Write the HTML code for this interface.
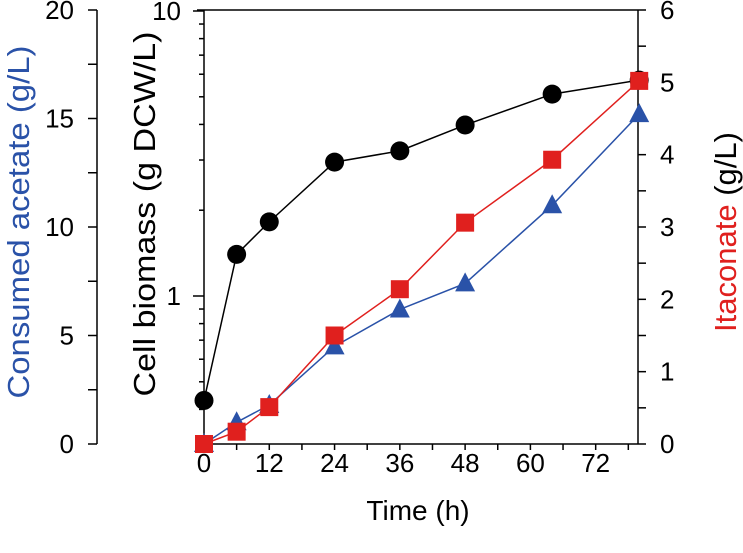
<!DOCTYPE html>
<html><head><meta charset="utf-8"><style>
body{margin:0;background:#fff}
svg{font-family:"Liberation Sans",Arial,sans-serif}
</style></head><body>
<svg width="743" height="548" viewBox="0 0 743 548">
<g id="axes"></g><g id="series"></g>
</svg>
<script>
const times=[0,6,12,24,36,48,64,80];
const biomass=[0.43,1.40,1.82,2.95,3.23,3.98,5.11,5.72];
const acetate=[0,1.0,1.8,4.5,6.2,7.4,11.0,15.2];
const itaconate=[0,0.17,0.51,1.5,2.14,3.06,3.93,5.02];
const xTicks=[0,12,24,36,48,60,72];
const accTicks=[0,5,10,15,20];
const itaTicks=[0,1,2,3,4,5,6];
const NS="http://www.w3.org/2000/svg";
const Y0=444,Y1=10;
const X=t=>204+t*5.44;
const YA=v=>Y0-(Y0-Y1)*v/20;
const YI=v=>Y0-(Y0-Y1)*v/6;
const YB=v=>296-285*Math.log10(v);
const ax=document.getElementById('axes'),se=document.getElementById('series');
function mk(p,tag,at,txt){const e=document.createElementNS(NS,tag);for(const k in at)e.setAttribute(k,at[k]);if(txt!==undefined)e.textContent=txt;p.appendChild(e);return e;}
function line(x1,y1,x2,y2,nm){const e=mk(ax,'line',{x1,y1,x2,y2,stroke:'#000','stroke-width':1.5});}
// x axis + top frame
line(197,Y0,638,Y0,'x-axis');
line(197,Y1,638,Y1,'top-frame');
for(let t=0;t<=78;t+=6){line(X(t),Y0,X(t),Y0+6,'x-tick');}
xTicks.forEach(t=>{const e=mk(ax,'text',{x:X(t),y:472,'font-size':26,'text-anchor':'middle'},t);});
let e=mk(ax,'text',{x:418,y:520,'font-size':28,'text-anchor':'middle'},'Time (h)');
// left acetate axis
line(97,Y1,97,Y0,'acetate-axis');
for(let v=0;v<=20;v+=2.5){line(88,YA(v),97,YA(v),'acetate-tick');}
accTicks.forEach(v=>{const e=mk(ax,'text',{x:74,y:YA(v)+9,'font-size':26,'text-anchor':'end'},v);});
e=mk(ax,'text',{x:0,y:0,'font-size':31,'text-anchor':'middle',textLength:353,lengthAdjust:'spacingAndGlyphs',fill:'#2a52a8',transform:'translate(29,222) rotate(-90)'},'Consumed acetate (g/L)');
// biomass log axis
line(204,Y1,204,Y0,'biomass-axis');
[0.3,0.4,0.5,0.6,0.7,0.8,0.9,1,2,3,4,5,6,7,8,9,10].forEach(v=>{const major=(v===1||v===10);line(major?193:199,YB(v),204,YB(v),'biomass-tick');});
[[1,'1'],[10,'10']].forEach(([v,s])=>{const e=mk(ax,'text',{x:181,y:YB(v)+9,'font-size':26,'text-anchor':'end'},s);});
e=mk(ax,'text',{x:0,y:0,'font-size':31,'text-anchor':'middle',textLength:365,lengthAdjust:'spacingAndGlyphs',transform:'translate(155,214) rotate(-90)'},'Cell biomass (g DCW/L)');
// right itaconate axis
line(638,Y1,638,Y0,'itaconate-axis');
for(let v=0;v<=6;v+=0.5){line(638,YI(v),646,YI(v),'itaconate-tick');}
itaTicks.forEach(v=>{const e=mk(ax,'text',{x:660,y:YI(v)+9,'font-size':26},v);});
e=mk(ax,'text',{x:0,y:0,'font-size':31,'text-anchor':'middle',transform:'translate(736,232) rotate(-90)'});
mk(e,'tspan',{fill:'#e0201e'},'Itaconate ');mk(e,'tspan',{fill:'#000'},'(g/L)');
// series
function series(vals,yf,color,shape,nm){
 const pts=vals.map((v,i)=>[X(times[i]),yf(v)]);
 const pl=mk(se,'polyline',{points:pts.map(p=>p.join(',')).join(' '),fill:'none',stroke:color,'stroke-width':1.5});
 
 pts.forEach(([x,y])=>{let m;
  if(shape==='circle')m=mk(se,'circle',{cx:x,cy:y,r:9.5,fill:color});
  else if(shape==='square')m=mk(se,'rect',{x:x-9,y:y-9,width:18,height:18,fill:color});
  else m=mk(se,'polygon',{points:`${x},${y-11} ${x-10},${y+8} ${x+10},${y+8}`,fill:color});
  });
}
series(biomass,YB,'#000','circle','biomass');
series(acetate,YA,'#2a52a8','tri','acetate');
series(itaconate,YI,'#e0201e','square','itaconate');
</script>
</body></html>
